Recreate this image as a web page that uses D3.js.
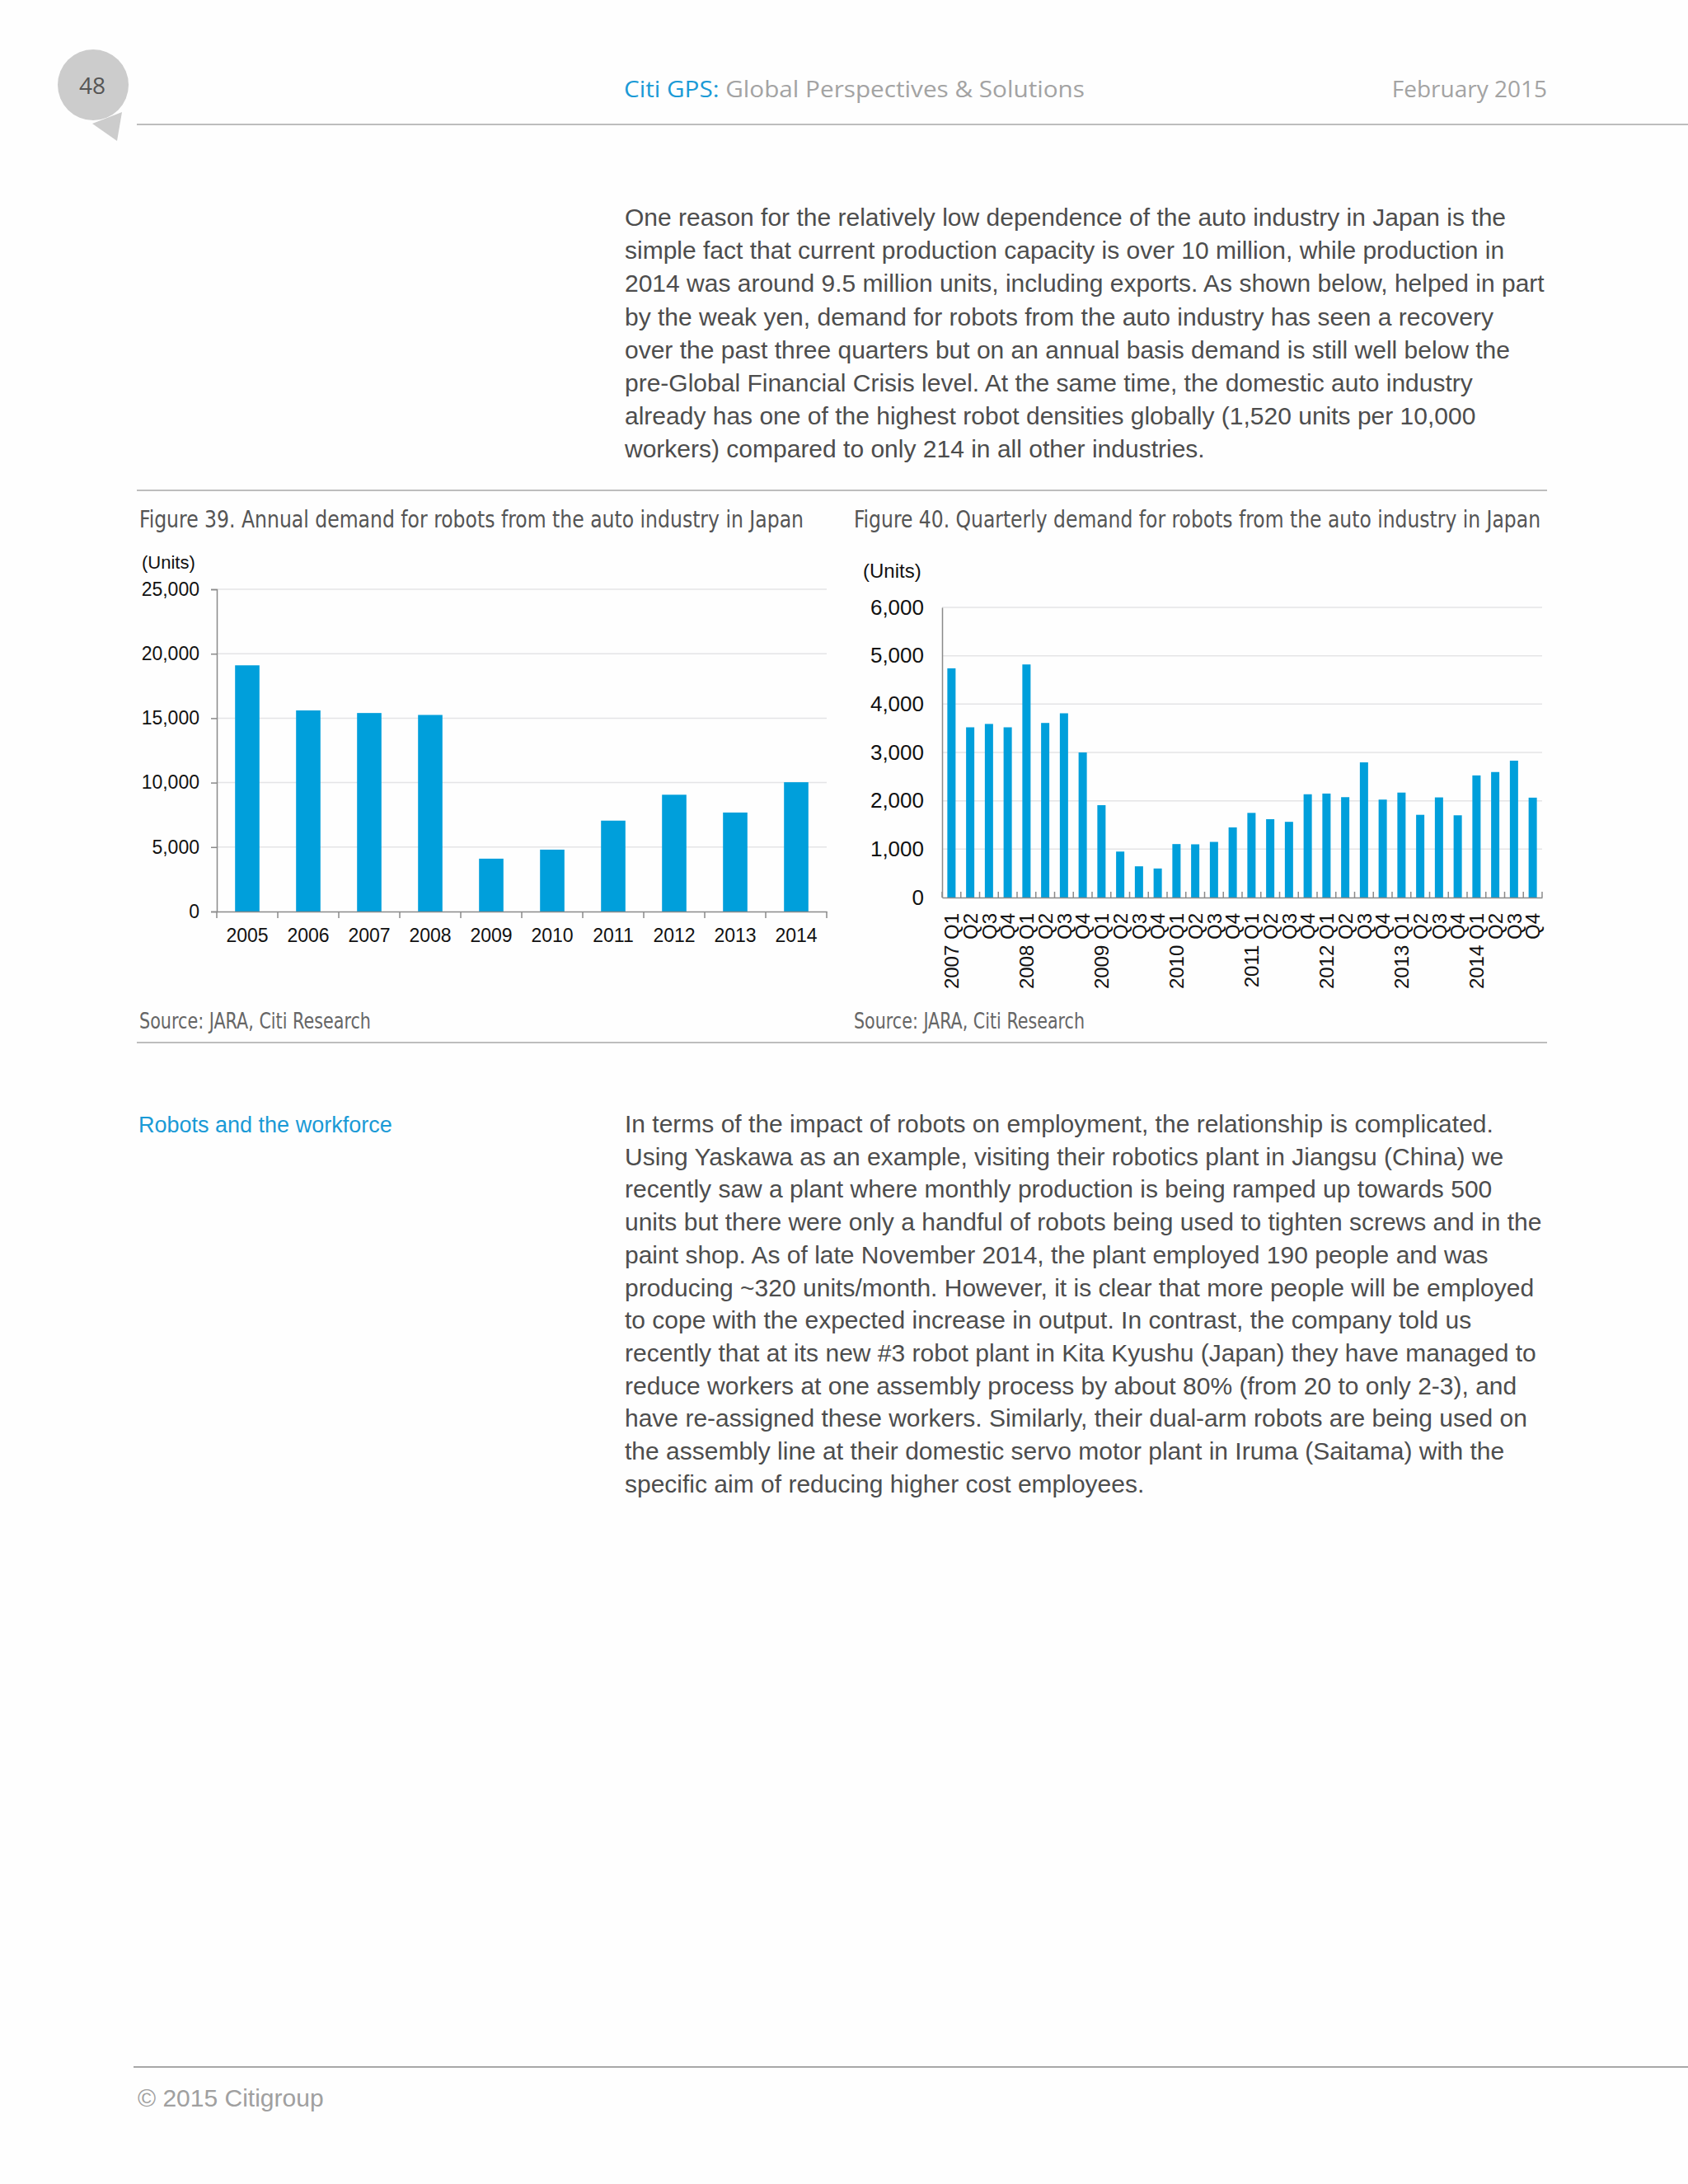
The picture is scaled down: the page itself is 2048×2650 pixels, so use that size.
<!DOCTYPE html>
<html>
<head>
<meta charset="utf-8">
<script src="https://cdn.jsdelivr.net/npm/d3@7"></script>
<style>
  body { margin: 0; background: #fff; }
  svg text { font-family: "Liberation Sans", Arial, Helvetica, sans-serif; }
  .cond { font-family: "Liberation Sans Narrow", "DejaVu Sans Condensed", "Arial Narrow", sans-serif !important; font-stretch: condensed; }
  .head { font-family: "Open Sans", "DejaVu Sans", sans-serif !important; }
</style>
</head>
<body>
<svg id="page"></svg>
<script>
// ---- chart data ----
var annualYears = ["2005", "2006", "2007", "2008", "2009", "2010", "2011", "2012", "2013", "2014"];
var annualUnits = [19100, 15600, 15400, 15250, 4100, 4800, 7050, 9060, 7680, 10030];
var annualTicks = [0, 5000, 10000, 15000, 20000, 25000];

var quarterLabels = [
  "2007 Q1", "Q2", "Q3", "Q4",
  "2008 Q1", "Q2", "Q3", "Q4",
  "2009 Q1", "Q2", "Q3", "Q4",
  "2010 Q1", "Q2", "Q3", "Q4",
  "2011 Q1", "Q2", "Q3", "Q4",
  "2012 Q1", "Q2", "Q3", "Q4",
  "2013 Q1", "Q2", "Q3", "Q4",
  "2014 Q1", "Q2", "Q3", "Q4"
];
var quarterlyUnits = [
  4740, 3520, 3590, 3520,
  4820, 3610, 3810, 3000,
  1910, 950, 645, 600,
  1105, 1100, 1150, 1450,
  1750, 1620, 1565, 2135,
  2150, 2075, 2795, 2025,
  2170, 1710, 2070, 1700,
  2525, 2595, 2830, 2065
];
var quarterlyTicks = [0, 1000, 2000, 3000, 4000, 5000, 6000];

var introLines = [
  "One reason for the relatively low dependence of the auto industry in Japan is the",
  "simple fact that current production capacity is over 10 million, while production in",
  "2014 was around 9.5 million units, including exports. As shown below, helped in part",
  "by the weak yen, demand for robots from the auto industry has seen a recovery",
  "over the past three quarters but on an annual basis demand is still well below the",
  "pre-Global Financial Crisis level. At the same time, the domestic auto industry",
  "already has one of the highest robot densities globally (1,520 units per 10,000",
  "workers) compared to only 214 in all other industries."
];
var workforceLines = [
  "In terms of the impact of robots on employment, the relationship is complicated.",
  "Using Yaskawa as an example, visiting their robotics plant in Jiangsu (China) we",
  "recently saw a plant where monthly production is being ramped up towards 500",
  "units but there were only a handful of robots being used to tighten screws and in the",
  "paint shop. As of late November 2014, the plant employed 190 people and was",
  "producing ~320 units/month. However, it is clear that more people will be employed",
  "to cope with the expected increase in output. In contrast, the company told us",
  "recently that at its new #3 robot plant in Kita Kyushu (Japan) they have managed to",
  "reduce workers at one assembly process by about 80% (from 20 to only 2-3), and",
  "have re-assigned these workers. Similarly, their dual-arm robots are being used on",
  "the assembly line at their domestic servo motor plant in Iruma (Saitama) with the",
  "specific aim of reducing higher cost employees."
];

var W = 2048, H = 2650;
var blue = "#009fdb", ruleGrey = "#bdbdbd";

var svg = d3.select("#page").attr("width", W).attr("height", H);
svg.append("rect").attr("width", W).attr("height", H).attr("fill", "#fefefe");

// ---- page header ----
svg.append("circle").attr("cx", 113).attr("cy", 103).attr("r", 43).attr("fill", "#cccccc");
svg.append("path").attr("d", "M112,150 L148,136 L142,171 Z").attr("fill", "#cccccc");
svg.append("text").attr("class", "head").attr("x", 112).attr("y", 114)
  .attr("text-anchor", "middle").attr("font-size", 28).attr("fill", "#555").text("48");

svg.append("line").attr("x1", 166).attr("x2", W).attr("y1", 151).attr("y2", 151)
  .attr("stroke", ruleGrey).attr("stroke-width", 2);

var hdr = svg.append("text").attr("class", "head").attr("x", 757).attr("y", 118)
  .attr("font-size", 28).attr("textLength", 559).attr("lengthAdjust", "spacingAndGlyphs");
hdr.append("tspan").attr("fill", "#1a9ad6").text("Citi GPS:");
hdr.append("tspan").attr("fill", "#a3a3a3").text(" Global Perspectives & Solutions");
svg.append("text").attr("class", "head").attr("x", 1877).attr("y", 118)
  .attr("text-anchor", "end").attr("font-size", 28).attr("fill", "#a3a3a3").text("February 2015");

// ---- body text ----
function paragraph(lines, x, y0, step) {
  svg.append("g").selectAll("text").data(lines).join("text")
    .attr("x", x).attr("y", function(d, i) { return y0 + i * step; })
    .attr("font-size", 30).attr("fill", "#4d4d4d").text(function(d) { return d; });
}
paragraph(introLines, 758, 274, 40.2);

svg.append("line").attr("x1", 166).attr("x2", 1877).attr("y1", 595).attr("y2", 595)
  .attr("stroke", ruleGrey).attr("stroke-width", 2);
svg.append("line").attr("x1", 166).attr("x2", 1877).attr("y1", 1265).attr("y2", 1265)
  .attr("stroke", ruleGrey).attr("stroke-width", 2);

// ---- Figure 39 ----
(function() {
  var left = 263, right = 1003, top = 715, bottom = 1106;
  var g = svg.append("g");

  g.append("text").attr("class", "cond").attr("x", 169).attr("y", 640)
    .attr("font-size", 28).attr("fill", "#555")
    .attr("textLength", 806).attr("lengthAdjust", "spacingAndGlyphs")
    .text("Figure 39. Annual demand for robots from the auto industry in Japan");
  g.append("text").attr("x", 172).attr("y", 690).attr("font-size", 22).attr("fill", "#111").text("(Units)");

  var x = d3.scaleBand().domain(annualYears).range([left, right]).paddingInner(0.6).paddingOuter(0.3);
  var y = d3.scaleLinear().domain([0, 25000]).range([bottom, top]);

  // gridlines
  g.append("g").selectAll("line").data(annualTicks.slice(1)).join("line")
    .attr("x1", left).attr("x2", right)
    .attr("y1", function(d) { return y(d); }).attr("y2", function(d) { return y(d); })
    .attr("stroke", "#e4e4e6").attr("stroke-width", 1.5);

  var ya = g.append("g").attr("transform", "translate(" + left + ",0)")
    .call(d3.axisLeft(y).tickValues(annualTicks).tickFormat(d3.format(",")).tickSize(7).tickPadding(14));
  ya.select(".domain").attr("stroke", "#8a8a8a").attr("stroke-width", 1.5);
  ya.selectAll(".tick line").attr("stroke", "#8a8a8a").attr("stroke-width", 1.5);
  ya.selectAll("text").attr("font-size", 23).attr("fill", "#111")
    .style("font-family", "'Liberation Sans', Arial, sans-serif");

  g.append("g").selectAll("rect").data(annualUnits).join("rect")
    .attr("x", function(d, i) { return x(annualYears[i]); })
    .attr("width", x.bandwidth())
    .attr("y", function(d) { return y(d); })
    .attr("height", function(d) { return bottom - y(d); })
    .attr("fill", blue);

  var xa = g.append("g").attr("transform", "translate(0," + bottom + ")")
    .call(d3.axisBottom(x).tickSize(0).tickPadding(21).tickSizeOuter(0));
  xa.select(".domain").attr("stroke", "#8a8a8a").attr("stroke-width", 1.5);
  xa.selectAll("text").attr("font-size", 23).attr("fill", "#111")
    .style("font-family", "'Liberation Sans', Arial, sans-serif");

  // category boundary ticks, pointing down
  var bounds = annualYears.map(function(d) { return x(d) + x.bandwidth() / 2 - x.step() / 2; }).concat([right]);
  g.append("g").selectAll("line").data(bounds).join("line")
    .attr("x1", function(d) { return d; }).attr("x2", function(d) { return d; })
    .attr("y1", bottom).attr("y2", bottom + 8)
    .attr("stroke", "#8a8a8a").attr("stroke-width", 1.5);

  g.append("text").attr("class", "cond").attr("x", 169).attr("y", 1248)
    .attr("font-size", 26).attr("fill", "#666")
    .attr("textLength", 281).attr("lengthAdjust", "spacingAndGlyphs")
    .text("Source: JARA, Citi Research");
})();

// ---- Figure 40 ----
(function() {
  var left = 1143, right = 1871, top = 737, bottom = 1089;
  var g = svg.append("g");

  g.append("text").attr("class", "cond").attr("x", 1036).attr("y", 640)
    .attr("font-size", 28).attr("fill", "#555")
    .attr("textLength", 833).attr("lengthAdjust", "spacingAndGlyphs")
    .text("Figure 40. Quarterly demand for robots from the auto industry in Japan");
  g.append("text").attr("x", 1047).attr("y", 701).attr("font-size", 24).attr("fill", "#111").text("(Units)");

  var x = d3.scaleBand().domain(d3.range(quarterlyUnits.length)).range([left, right])
    .paddingInner(0.56).paddingOuter(0.28);
  var y = d3.scaleLinear().domain([0, 6000]).range([bottom, top]);

  g.append("g").selectAll("line").data(quarterlyTicks.slice(1)).join("line")
    .attr("x1", left).attr("x2", right)
    .attr("y1", function(d) { return y(d); }).attr("y2", function(d) { return y(d); })
    .attr("stroke", "#e4e4e6").attr("stroke-width", 1.5);

  var ya = g.append("g").attr("transform", "translate(" + left + ",0)")
    .call(d3.axisLeft(y).tickValues(quarterlyTicks).tickFormat(d3.format(",")).tickSize(0).tickPadding(22));
  ya.select(".domain").attr("stroke", "#8a8a8a").attr("stroke-width", 1.5);
  ya.selectAll("text").attr("font-size", 26).attr("fill", "#111")
    .style("font-family", "'Liberation Sans', Arial, sans-serif");

  g.append("g").selectAll("rect").data(quarterlyUnits).join("rect")
    .attr("x", function(d, i) { return x(i); })
    .attr("width", x.bandwidth())
    .attr("y", function(d) { return y(d); })
    .attr("height", function(d) { return bottom - y(d); })
    .attr("fill", blue);

  var xa = g.append("g").attr("transform", "translate(0," + bottom + ")")
    .call(d3.axisBottom(x).tickSize(0).tickSizeOuter(0).tickFormat(function(i) { return quarterLabels[i]; }));
  xa.select(".domain").attr("stroke", "#8a8a8a").attr("stroke-width", 1.5);
  xa.selectAll("text")
    .attr("font-size", 24).attr("fill", "#111")
    .style("font-family", "'Liberation Sans', Arial, sans-serif")
    .style("white-space", "pre")
    .attr("text-anchor", "end")
    .attr("transform", "rotate(-90)")
    .attr("x", -19).attr("y", 0).attr("dy", "0.36em");

  // category boundary ticks, pointing up into the plot
  var bounds = d3.range(quarterlyUnits.length).map(function(i) { return x(i) + x.bandwidth() / 2 - x.step() / 2; }).concat([right]);
  g.append("g").selectAll("line").data(bounds).join("line")
    .attr("x1", function(d) { return d; }).attr("x2", function(d) { return d; })
    .attr("y1", bottom).attr("y2", bottom - 7)
    .attr("stroke", "#8a8a8a").attr("stroke-width", 1.5);

  g.append("text").attr("class", "cond").attr("x", 1036).attr("y", 1248)
    .attr("font-size", 26).attr("fill", "#666")
    .attr("textLength", 280).attr("lengthAdjust", "spacingAndGlyphs")
    .text("Source: JARA, Citi Research");
})();

// ---- lower section ----
svg.append("text").attr("x", 168).attr("y", 1374).attr("font-size", 27).attr("fill", "#1a9ad6")
  .text("Robots and the workforce");
paragraph(workforceLines, 758, 1374, 39.7);

// ---- footer ----
svg.append("line").attr("x1", 162).attr("x2", W).attr("y1", 2508).attr("y2", 2508)
  .attr("stroke", "#a8a8a8").attr("stroke-width", 2);
svg.append("text").attr("x", 167).attr("y", 2556).attr("font-size", 30).attr("fill", "#a0a0a0")
  .text("\u00a9 2015 Citigroup");
</script>
</body>
</html>
